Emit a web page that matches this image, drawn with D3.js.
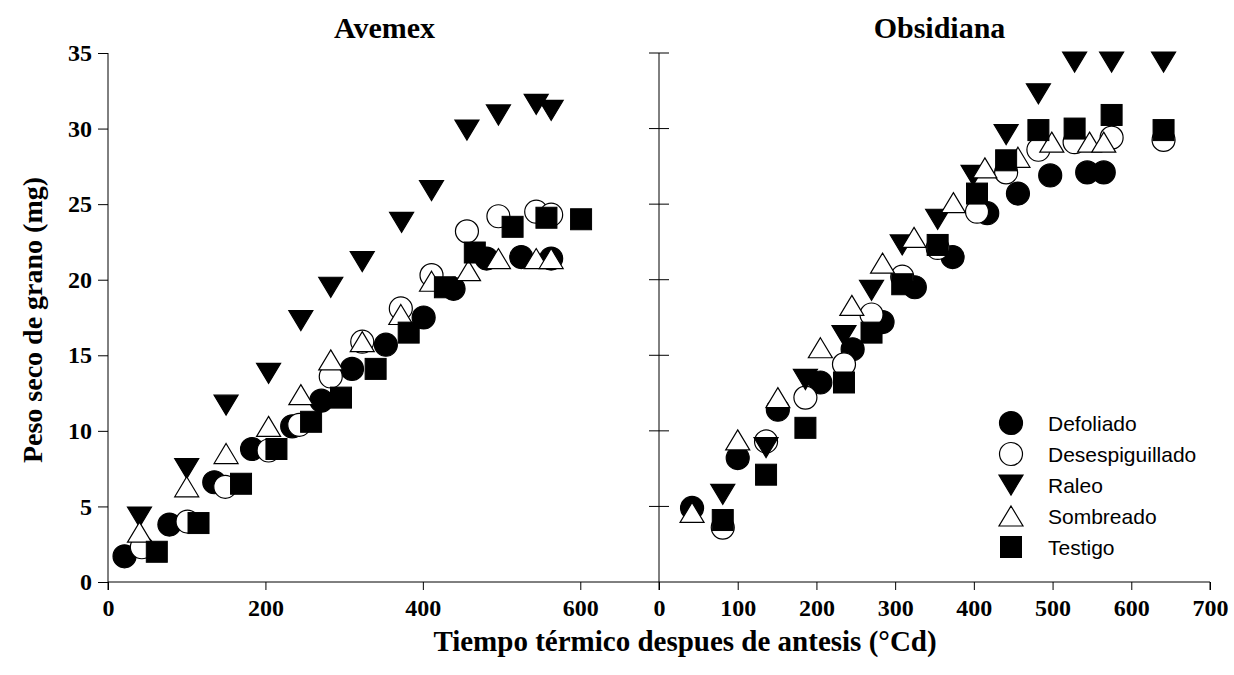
<!DOCTYPE html>
<html>
<head>
<meta charset="utf-8">
<script src="https://cdn.jsdelivr.net/npm/d3@7"></script>
<style>
  html, body { margin: 0; padding: 0; background: #fff; }
  svg { display: block; }
  .serif { font-family: "Liberation Serif", "Times New Roman", serif; font-weight: bold; }
  .sans { font-family: "Liberation Sans", Arial, sans-serif; }
</style>
</head>
<body>
<svg id="chart" width="1234" height="675"></svg>
<script>
// ---------- data ----------
const panels = ["Avemex", "Obsidiana"];
const treatments = ["Defoliado", "Desespiguillado", "Raleo", "Sombreado", "Testigo"];
const xTicksLeft = [0, 200, 400, 600];
const xTicksRight = [0, 100, 200, 300, 400, 500, 600, 700];
const yTicks = [0, 5, 10, 15, 20, 25, 30, 35];

// Avemex: [thermal time, grain dry weight]
const avemexDefoliado = [[21,1.7],[78,3.8],[135,6.6],[183,8.8],[234,10.3],[271,12.0],[310,14.1],[353,15.7],[401,17.5],[439,19.4],[481,21.4],[525,21.5],[563,21.4]];
const avemexDesespiguillado = [[43,2.3],[101,4.0],[149,6.3],[204,8.7],[243,10.4],[283,13.6],[323,15.9],[372,18.1],[411,20.3],[456,23.2],[496,24.2],[544,24.5],[563,24.3]];
const avemexRaleo = [[40,4.3],[100,7.5],[150,11.7],[204,13.8],[245,17.3],[283,19.5],[323,21.2],[373,23.8],[411,25.9],[456,29.9],[496,30.9],[544,31.6],[563,31.2]];
const avemexSombreado = [[40,3.3],[100,6.3],[150,8.5],[204,10.3],[245,12.4],[283,14.7],[323,15.9],[372,17.7],[411,19.9],[458,20.6],[496,21.4],[544,21.4],[563,21.4]];
const avemexTestigo = [[62,2.0],[115,3.9],[169,6.5],[214,8.8],[258,10.6],[296,12.2],[340,14.1],[382,16.5],[428,19.5],[466,21.8],[514,23.5],[557,24.1],[601,24.0]];

// Obsidiana
const obsidianaDefoliado = [[42,4.9],[100,8.2],[151,11.4],[205,13.2],[246,15.4],[284,17.2],[325,19.5],[373,21.5],[417,24.4],[456,25.7],[497,26.9],[544,27.1],[565,27.1]];
const obsidianaDesespiguillado = [[81,3.6],[136,9.3],[186,12.2],[235,14.4],[270,17.7],[309,20.2],[354,22.1],[404,24.5],[441,27.1],[482,28.6],[528,29.1],[575,29.4],[641,29.25]];
const obsidianaRaleo = [[81,5.8],[136,8.9],[186,13.4],[235,16.3],[270,19.3],[309,22.3],[354,24.0],[399,26.9],[441,29.6],[482,32.3],[528,34.4],[575,34.4],[641,34.4]];
const obsidianaSombreado = [[42,4.6],[100,9.4],[151,12.2],[205,15.5],[245,18.3],[284,21.1],[324,22.8],[374,25.1],[414,27.4],[456,28.1],[499,29.1],[547,29.1],[565,29.1]];
const obsidianaTestigo = [[81,4.1],[136,7.1],[186,10.2],[235,13.2],[270,16.5],[309,19.7],[354,22.3],[404,25.7],[441,27.9],[482,29.9],[528,30.0],[575,30.9],[641,29.9]];

// ---------- build ----------
const seriesByPanel = {
  Avemex: [avemexDefoliado, avemexDesespiguillado, avemexRaleo, avemexSombreado, avemexTestigo],
  Obsidiana: [obsidianaDefoliado, obsidianaDesespiguillado, obsidianaRaleo, obsidianaSombreado, obsidianaTestigo]
};
const markerStyle = {
  Defoliado: {shape: "circle", fill: "#000"},
  Desespiguillado: {shape: "circle", fill: "#fff"},
  Raleo: {shape: "down", fill: "#000"},
  Sombreado: {shape: "up", fill: "#fff"},
  Testigo: {shape: "square", fill: "#000"}
};

const svg = d3.select("#chart");
const plotTop = 53, plotBottom = 582;
const y = d3.scaleLinear().domain([0, 35]).range([plotBottom, plotTop]);
const xLeft = d3.scaleLinear().domain([0, 700]).range([108, 659]);
const xRight = d3.scaleLinear().domain([0, 700]).range([659, 1210]);

function drawMarker(g, shape, fill, cx, cy) {
  const r = 11.5, hw = 12, hh = 10, s = 10.5;
  if (shape === "circle") {
    g.append("circle").attr("cx", cx).attr("cy", cy).attr("r", r)
      .attr("fill", fill).attr("stroke", "#000").attr("stroke-width", 1.2);
  } else if (shape === "square") {
    g.append("rect").attr("x", cx - s).attr("y", cy - s).attr("width", 2*s).attr("height", 2*s)
      .attr("fill", fill).attr("stroke", "#000").attr("stroke-width", 1);
  } else if (shape === "up") {
    g.append("path").attr("d", `M${cx},${cy-hh}L${cx+hw},${cy+hh}L${cx-hw},${cy+hh}Z`)
      .attr("fill", fill).attr("stroke", "#000").attr("stroke-width", 1.2);
  } else {
    g.append("path").attr("d", `M${cx-hw},${cy-hh}L${cx+hw},${cy-hh}L${cx},${cy+hh}Z`)
      .attr("fill", fill).attr("stroke", "#000").attr("stroke-width", 1.2);
  }
}

// Left axis
const gyl = svg.append("g").attr("transform", `translate(${xLeft(0)},0)`)
  .call(d3.axisLeft(y).tickValues(yTicks).tickSize(10).tickPadding(6).tickFormat(d3.format("d")));
gyl.select(".domain").attr("d", `M0,${plotBottom + 8}V${plotTop}`);
gyl.selectAll("text").attr("class", "serif").style("font-size", "24px");

// Right panel y axis with crossing ticks
const gyr = svg.append("g").attr("transform", `translate(${xRight(0)},0)`);
gyr.append("line").attr("x1", 0).attr("x2", 0).attr("y1", plotBottom + 8).attr("y2", plotTop).attr("stroke", "#000");
gyr.selectAll("line.t").data(yTicks.filter(d => d > 0)).enter().append("line").attr("class", "t")
  .attr("x1", -10).attr("x2", 10).attr("y1", d => y(d)).attr("y2", d => y(d)).attr("stroke", "#000");

// X axes
const gxl = svg.append("g").attr("transform", `translate(0,${plotBottom})`)
  .call(d3.axisBottom(xLeft).tickValues(xTicksLeft).tickSize(8).tickPadding(9).tickFormat(d3.format("d")));
gxl.selectAll("text").attr("class", "serif").style("font-size", "24px");
const gxr = svg.append("g").attr("transform", `translate(0,${plotBottom})`)
  .call(d3.axisBottom(xRight).tickValues(xTicksRight).tickSize(8).tickPadding(9).tickFormat(d3.format("d")));
gxr.selectAll("text").attr("class", "serif").style("font-size", "24px");
gxr.select(".domain").attr("d", `M${xRight(0)},0H${xRight(700)}V8`);
gxl.select(".domain").attr("d", `M${xLeft(0)},0H${xLeft(700)}`);

// Markers
const titleX = [xLeft(350) + 1, xRight(350) + 5];
panels.forEach((p, pi) => {
  const x = pi === 0 ? xLeft : xRight;
  const g = svg.append("g");
  seriesByPanel[p].forEach((ser, si) => {
    const st = markerStyle[treatments[si]];
    ser.forEach(d => drawMarker(g, st.shape, st.fill, x(d[0]), y(d[1])));
  });
  svg.append("text").attr("class", "serif").style("font-size", "30px")
    .attr("x", titleX[pi]).attr("y", 38)
    .attr("text-anchor", "middle").text(p);
});

// Legend
const lg = svg.append("g");
treatments.forEach((t, i) => {
  const cy = 423 + i * 31;
  const st = markerStyle[t];
  drawMarker(lg, st.shape, st.fill, 1011, cy);
  lg.append("text").attr("class", "sans").style("font-size", "21px")
    .attr("x", 1048).attr("y", cy + 7.5).text(t);
});

// Axis titles
svg.append("text").attr("class", "serif").style("font-size", "29px")
  .attr("x", 685).attr("y", 651).attr("text-anchor", "middle")
  .text("Tiempo térmico despues de antesis (°Cd)");
svg.append("text").attr("class", "serif").style("font-size", "28px")
  .attr("transform", `translate(42,320) rotate(-90)`).attr("text-anchor", "middle")
  .text("Peso seco de grano (mg)");
</script>
</body>
</html>
